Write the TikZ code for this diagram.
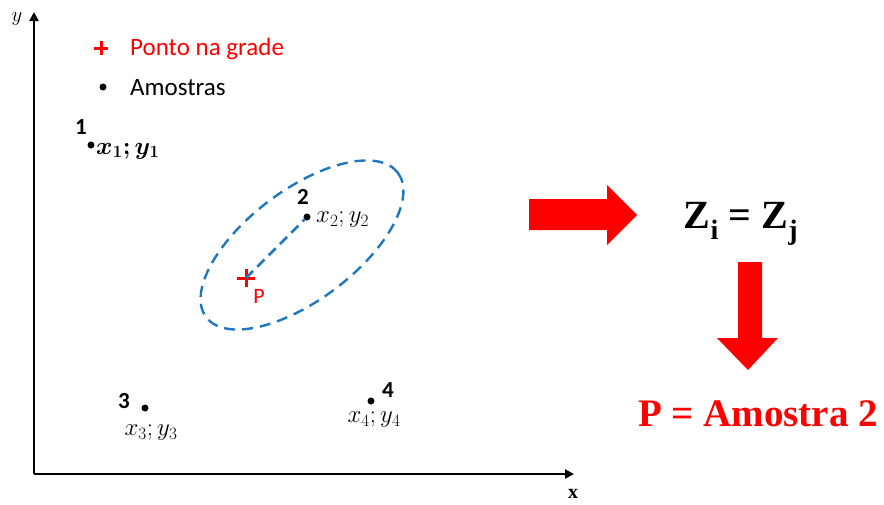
\documentclass[tikz,border=0pt]{standalone}
\usepackage{fontspec}
\usepackage{amsmath,bm}
\setsansfont{Carlito}
\newfontfamily\timesfont{Liberation Serif}
\usetikzlibrary{arrows.meta}
\definecolor{pred}{RGB}{255,0,0}
\definecolor{eblue}{RGB}{31,119,190}
\begin{document}
\begin{tikzpicture}[x=1pt,y=-1pt,
  sampledot/.style={circle,fill=black,inner sep=0pt,minimum size=7pt},
  numlbl/.style={font=\sffamily\bfseries\fontsize{23}{23}\selectfont,inner sep=0pt},
  coordlbl/.style={font=\fontsize{25}{25}\selectfont,inner sep=0pt},
  legtxt/.style={font=\sffamily\fontsize{25}{25}\selectfont,inner sep=0pt,anchor=west},
  plusmark/.style={draw=pred,line width=3pt}]
\useasboundingbox (0,0) rectangle (884,504);
% axes
\coordinate (O) at (34,474);
\coordinate (Ytip) at (34,12);
\coordinate (Xtip) at (574,474);
\draw[line width=2.4pt,-{Triangle[length=9pt,width=9pt]}] (O) -- (Ytip);
\draw[line width=2.4pt,-{Triangle[length=9pt,width=9pt]}] (O) -- (Xtip);
\node[font=\fontsize{22}{22}\selectfont,inner sep=0pt] (ylab) at (17,19) {$y$};
\node[font=\timesfont\bfseries\fontsize{20}{20}\selectfont,inner sep=0pt] (xlab) at (573,494) {x};
% legend
\coordinate (legplus) at (101,48);
\path[plusmark] (legplus) ++(-7,0) -- ++(14,0) (legplus) ++(0,-7) -- ++(0,14);
\node[legtxt,text=pred] (legp) at (130,49) {Ponto na grade};
\node[sampledot] (legdot) at (103,87) {};
\node[legtxt] (lega) at (130,88) {Amostras};
% samples
\node[sampledot] (s1) at (91,145) {};
\node[numlbl] (n1) at (81,127) {1};
\node[coordlbl,anchor=west] (c1) at (96,151) {$\bm{x_1;y_1}$};
\node[sampledot] (s2) at (307,217) {};
\node[numlbl] (n2) at (303,197) {2};
\node[coordlbl,anchor=west,font=\fontsize{23}{23}\selectfont] (c2) at (316,220) {$x_2;y_2$};
\node[sampledot] (s3) at (145,408) {};
\node[numlbl] (n3) at (124,401) {3};
\node[coordlbl] (c3) at (151,433) {$x_3;y_3$};
\node[sampledot] (s4) at (371,401) {};
\node[numlbl] (n4) at (388,390) {4};
\node[coordlbl] (c4) at (374,420) {$x_4;y_4$};
% point P
\coordinate (P) at (246,278);
\path[plusmark] (P) ++(-9,0) -- ++(18,0) (P) ++(0,-9) -- ++(0,18);
\node[text=pred,font=\sffamily\fontsize{22}{22}\selectfont,inner sep=0pt] (Plab) at (259,296) {P};
\draw[eblue,line width=2.6pt,dash pattern=on 10pt off 6pt] (P) -- (s2);
\draw[eblue,line width=2.4pt,dash pattern=on 11pt off 7pt,rotate around={37:(302,245)}] (302,245) ellipse (120 and 55);
% big red arrows
\fill[pred] (529,199) -- (607,199) -- (607,185) -- (637,215) -- (607,245) -- (607,230) -- (529,230) -- cycle;
\node[font=\timesfont\bfseries\fontsize{40}{40}\selectfont,inner sep=0pt] (eq) at (741,224) {Z\textsubscript{i} = Z\textsubscript{j}};
\fill[pred] (738,262) -- (762,262) -- (762,338) -- (778,338) -- (748,370) -- (717,338) -- (738,338) -- cycle;
\node[text=pred,font=\timesfont\bfseries\fontsize{39}{39}\selectfont,inner sep=0pt] (res) at (758,414) {P = Amostra 2};
\end{tikzpicture}
\end{document}
